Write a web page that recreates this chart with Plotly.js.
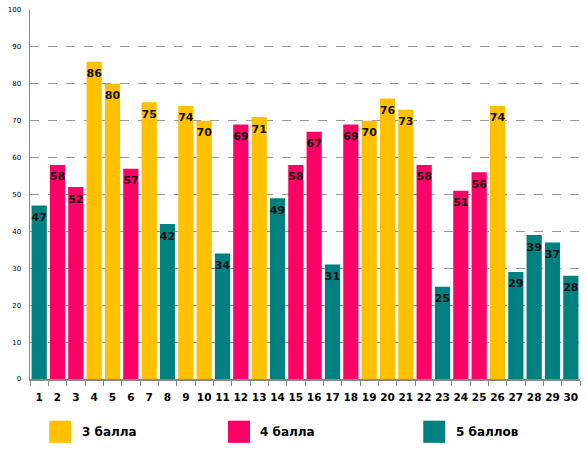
<!DOCTYPE html>
<html>
<head>
<meta charset="utf-8">
<script src="https://cdn.plot.ly/plotly-3.0.1.min.js"></script>
<style>
  body { margin: 0; background: #fff; }
  #plot { width: 587px; height: 455px; }
</style>
</head>
<body>
<div id="plot"></div>
<script>
// student numbers 1..30, score and grade of each
const students = ['1','2','3','4','5','6','7','8','9','10','11','12','13','14','15',
                  '16','17','18','19','20','21','22','23','24','25','26','27','28','29','30'];
const scores = [47, 58, 52, 86, 80, 57, 75, 42, 74, 70, 34, 69, 71, 49, 58,
                67, 31, 69, 70, 76, 73, 58, 25, 51, 56, 74, 29, 39, 37, 28];
const grades = [5, 4, 4, 3, 3, 4, 3, 5, 3, 3, 5, 4, 3, 5, 4,
                4, 5, 4, 3, 3, 3, 4, 5, 4, 4, 3, 5, 5, 5, 5];

const gradeKeys = [3, 4, 5];
const gradeNames = ['3 балла', '4 балла', '5 баллов'];
const gradeColors = ['#FFC000', '#FF0066', '#008080'];

const FONT = 'DejaVu Sans, Verdana, sans-serif';

// one bar trace per grade, only the students with that grade
let traces = [];
for (let g = 0; g < gradeKeys.length; g++) {
  let xs = [], ys = [];
  for (let i = 0; i < students.length; i++) {
    if (grades[i] === gradeKeys[g]) {
      xs.push(students[i]);
      ys.push(scores[i]);
    }
  }
  traces.push({
    type: 'bar',
    x: xs,
    y: ys,
    name: gradeNames[g],
    marker: {color: gradeColors[g]},
    hoverinfo: 'x+y',
    showlegend: false
  });
}

// value labels a bit below each bar top (invisible marker pushes the text down)
traces.push({
  type: 'scatter',
  mode: 'markers+text',
  x: students,
  y: scores,
  text: scores.map(String),
  textposition: 'bottom center',
  marker: {size: 10, opacity: 0},
  textfont: {family: FONT, size: 11, color: '#111', weight: 'bold'},
  hoverinfo: 'skip',
  showlegend: false,
  cliponaxis: false
});

// legend drawn below the axis: square + label per grade
const legendX = [0.035, 0.36, 0.715];
let shapes = [], annotations = [];
for (let g = 0; g < gradeNames.length; g++) {
  shapes.push({
    type: 'rect', xref: 'paper', yref: 'paper',
    x0: legendX[g], x1: legendX[g] + 0.04,
    y0: -0.173, y1: -0.113,
    fillcolor: gradeColors[g], line: {width: 0}
  });
  annotations.push({
    xref: 'paper', yref: 'paper',
    x: legendX[g] + 0.055, y: -0.143,
    xanchor: 'left', yanchor: 'middle',
    text: gradeNames[g], showarrow: false,
    font: {family: FONT, size: 12, color: '#000', weight: 'bold'}
  });
}

var layout = {
  width: 587,
  height: 455,
  margin: {l: 30, r: 7, t: 10, b: 76},
  paper_bgcolor: '#fff',
  plot_bgcolor: '#fff',
  barmode: 'overlay',
  bargap: 0.17,
  showlegend: false,
  font: {family: FONT, color: '#000'},
  xaxis: {
    type: 'category',
    categoryorder: 'array',
    categoryarray: students,
    range: [-0.5, students.length - 0.5],
    tickson: 'boundaries',
    ticks: 'outside',
    ticklen: 5,
    tickcolor: '#888',
    tickangle: 0,
    ticklabelstandoff: 8,
    showline: true,
    linecolor: '#888',
    linewidth: 1.5,
    showgrid: false,
    tickfont: {family: FONT, size: 10.5, color: '#000', weight: 'bold'}
  },
  yaxis: {
    range: [0, 100],
    dtick: 10,
    showline: true,
    linecolor: '#888',
    linewidth: 1.5,
    showgrid: true,
    gridcolor: '#999',
    griddash: 'dash',
    gridwidth: 1,
    zeroline: false,
    ticks: '',
    ticklabelstandoff: 6,
    tickfont: {family: FONT, size: 7, color: '#000'}
  },
  shapes: shapes,
  annotations: annotations
};

Plotly.newPlot('plot', traces, layout, {displayModeBar: false, staticPlot: true});
</script>
</body>
</html>
